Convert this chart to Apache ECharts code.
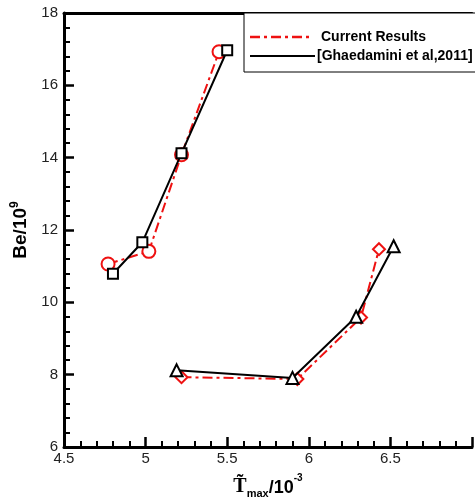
<!DOCTYPE html>
<html>
<head>
<meta charset="utf-8">
<script src="https://cdn.jsdelivr.net/npm/echarts@6/dist/echarts.min.js"></script>
<style>
html,body{margin:0;padding:0;background:#fff;}
#chart{width:475px;height:504px;}
</style>
</head>
<body>
<div id="chart"></div>
<script>
// Data
var squaresX = [4.80, 4.98, 5.22, 5.50];
var squaresY = [10.79, 11.66, 14.12, 16.97];
var circlesX = [4.77, 5.02, 5.22, 5.45];
var circlesY = [11.06, 11.41, 14.08, 16.93];
var trianglesX = [5.19, 5.90, 6.29, 6.52];
var trianglesY = [8.12, 7.91, 9.60, 11.55];
var diamondsX = [5.22, 5.93, 6.32, 6.43];
var diamondsY = [7.93, 7.88, 9.58, 11.47];
var legendNames = ['Current Results', '[Ghaedamini et al,2011]'];

function pairs(xs, ys) { return xs.map(function (x, i) { return [x, ys[i]]; }); }

var chart = echarts.init(document.getElementById('chart'), null, {renderer: 'canvas'});
var red = '#ee1111';
var dashDot = [10, 4, 3, 4];
var labelFont = {fontFamily: 'Liberation Sans, Arial, sans-serif', fontSize: 15, color: '#222'};

chart.setOption({
  animation: false,
  backgroundColor: '#fff',
  grid: {left: 64, top: 13, width: 415, height: 438},
  xAxis: [{
    type: 'value', min: 4.5, max: 7, interval: 0.5,
    axisLine: {lineStyle: {color: '#000', width: 3}},
    axisTick: {inside: true, length: 10, lineStyle: {color: '#000', width: 2.5}},
    minorTick: {show: true, splitNumber: 5, length: 6, lineStyle: {color: '#000', width: 2}},
    splitLine: {show: false},
    axisLabel: Object.assign({margin: 4, formatter: function (v) { return v === 7 ? '' : String(v); }}, labelFont),
    name: '{t|T\u0303}{s|max}{n|/10}{p|-3}',
    nameLocation: 'middle', nameGap: 24,
    nameTextStyle: {
      rich: {
        t: {fontFamily: 'Liberation Serif, serif', fontWeight: 'bold', fontSize: 20, color: '#000', verticalAlign: 'bottom', lineHeight: 26},
        s: {fontFamily: 'Liberation Sans, Arial', fontWeight: 'bold', fontSize: 11, color: '#000', verticalAlign: 'bottom', padding: [0, 0, -2, 0]},
        n: {fontFamily: 'Liberation Sans, Arial', fontWeight: 'bold', fontSize: 18, color: '#000', verticalAlign: 'bottom'},
        p: {fontFamily: 'Liberation Sans, Arial', fontWeight: 'bold', fontSize: 10, color: '#000', verticalAlign: 'top', padding: [2, 0, 0, 0]}
      }
    }
  }, {
    type: 'value', position: 'top', min: 4.5, max: 7,
    axisLine: {show: true, lineStyle: {color: '#000', width: 3}},
    axisTick: {show: false}, axisLabel: {show: false}, splitLine: {show: false}
  }],
  yAxis: {
    type: 'value', min: 6, max: 18, interval: 2,
    axisLine: {lineStyle: {color: '#000', width: 3}},
    axisTick: {inside: true, length: 10, lineStyle: {color: '#000', width: 2.5}},
    minorTick: {show: true, splitNumber: 5, length: 6, lineStyle: {color: '#000', width: 2}},
    splitLine: {show: false},
    axisLabel: Object.assign({margin: 6}, labelFont),
    name: '{b|Be/10}{p|9}',
    nameLocation: 'middle', nameGap: 31, nameRotate: 90,
    nameTextStyle: {
      rich: {
        b: {fontFamily: 'Liberation Sans, Arial', fontWeight: 'bold', fontSize: 19, color: '#000', verticalAlign: 'bottom', lineHeight: 22},
        p: {fontFamily: 'Liberation Sans, Arial', fontWeight: 'bold', fontSize: 12, color: '#000', verticalAlign: 'top'}
      }
    }
  },
  series: [
    {name: legendNames[0], type: 'line', data: pairs(circlesX, circlesY), symbol: 'emptyCircle', symbolSize: 13,
     lineStyle: {color: red, width: 2, type: dashDot}, itemStyle: {color: red, borderWidth: 1.5}, z: 3},
    {name: legendNames[0], type: 'line', data: pairs(diamondsX, diamondsY), symbol: 'emptyDiamond', symbolSize: 12,
     lineStyle: {color: red, width: 2, type: dashDot}, itemStyle: {color: red, borderWidth: 1.5}, z: 3},
    {name: legendNames[1], type: 'line', data: pairs(squaresX, squaresY), symbol: 'emptyRect', symbolSize: 10,
     lineStyle: {color: '#000', width: 2}, itemStyle: {color: '#000', borderWidth: 1.5}, z: 4},
    {name: legendNames[1], type: 'line', data: pairs(trianglesX, trianglesY), symbol: 'emptyTriangle', symbolSize: 12,
     lineStyle: {color: '#000', width: 2}, itemStyle: {color: '#000', borderWidth: 1.2}, z: 4}
  ],
  graphic: [
    {type: 'rect', shape: {x: 244, y: 13, width: 260, height: 59}, style: {fill: '#fff', stroke: '#000', lineWidth: 1}, z: 10},
    {type: 'line', shape: {x1: 250, y1: 37, x2: 311, y2: 37}, style: {stroke: red, lineWidth: 2.5, lineDash: dashDot}, z: 11},
    {type: 'line', shape: {x1: 250, y1: 56, x2: 315, y2: 56}, style: {stroke: '#000', lineWidth: 2}, z: 11},
    {type: 'text', x: 321, y: 37, style: {text: legendNames[0], fontFamily: 'Liberation Sans, Arial', fontWeight: 'bold', fontSize: 14, fill: '#000', verticalAlign: 'middle'}, z: 11},
    {type: 'text', x: 317, y: 56, style: {text: legendNames[1], fontFamily: 'Liberation Sans, Arial', fontWeight: 'bold', fontSize: 14, fill: '#000', verticalAlign: 'middle'}, z: 11}
  ]
});
</script>
</body>
</html>
